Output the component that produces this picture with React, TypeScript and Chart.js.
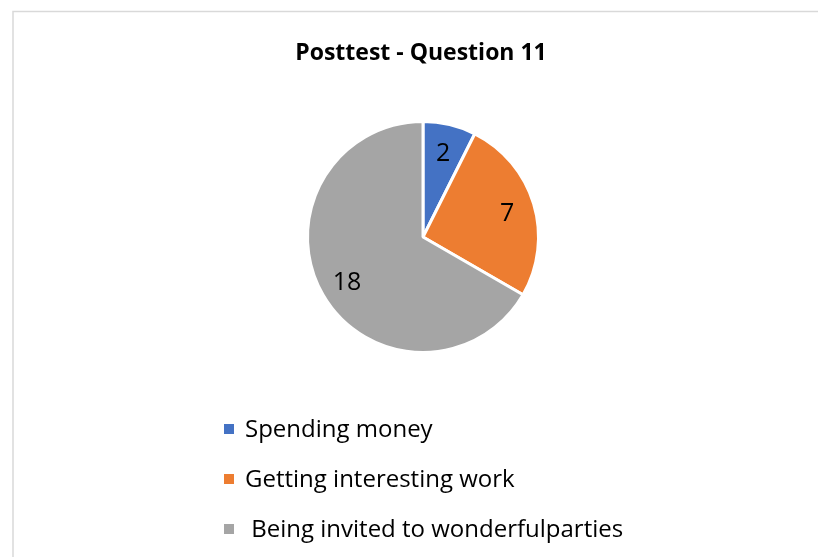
import React, { useEffect, useRef } from "react";
import { Chart, registerables } from "chart.js";

Chart.register(...registerables);

const titleText = "Posttest - Question 11";
const categories = ["Spending money", "Getting interesting work", " Being invited to wonderfulparties"];
const values = [2, 7, 18];
const colors = ["#4472C4", "#ED7D31", "#A5A5A5"];

const FONT = "'Open Sans', sans-serif";

const decorPlugin = {
  id: "decor",
  beforeDraw(chart: any) {
    const ctx = chart.ctx;
    ctx.save();
    ctx.fillStyle = "#ffffff";
    ctx.fillRect(0, 0, chart.width, chart.height);
    ctx.strokeStyle = "#d9d9d9";
    ctx.lineWidth = 1.5;
    ctx.strokeRect(13, 11.5, chart.width + 20, chart.height + 20);
    ctx.restore();
  },
  afterDraw(chart: any) {
    const ctx = chart.ctx;
    ctx.save();
    // title
    ctx.fillStyle = "#000000";
    ctx.font = `bold 23px ${FONT}`;
    ctx.textAlign = "center";
    ctx.textBaseline = "alphabetic";
    ctx.fillText(titleText, 421, 60);

    // data labels
    const meta = chart.getDatasetMeta(0);
    ctx.font = `25px ${FONT}`;
    ctx.textAlign = "center";
    ctx.textBaseline = "middle";
    meta.data.forEach((arc: any, i: number) => {
      const p = arc.getProps(["x", "y", "startAngle", "endAngle", "outerRadius"], true);
      const mid = (p.startAngle + p.endAngle) / 2;
      const r = p.outerRadius * 0.76;
      ctx.fillText(String(values[i]), p.x + Math.cos(mid) * r, p.y + Math.sin(mid) * r + 2);
    });

    // legend
    const rowY = [429, 479, 529];
    ctx.textAlign = "left";
    ctx.font = `24px ${FONT}`;
    categories.forEach((c, i) => {
      ctx.fillStyle = colors[i];
      ctx.fillRect(224, rowY[i] - 5, 10, 10);
      ctx.fillStyle = "#000000";
      ctx.fillText(c, 245, rowY[i] + 1);
    });
    ctx.restore();
  },
};

export default function App() {
  const ref = useRef<HTMLCanvasElement | null>(null);
  useEffect(() => {
    const chart = new Chart(ref.current as HTMLCanvasElement, {
      type: "pie",
      data: {
        labels: categories,
        datasets: [
          {
            data: values,
            backgroundColor: colors,
            borderColor: "#ffffff",
            borderWidth: 3,
          },
        ],
      },
      options: {
        animation: false,
        responsive: false,
        layout: { padding: { left: 306, right: 278, top: 120, bottom: 203 } },
        plugins: {
          legend: { display: false },
          title: { display: false },
          tooltip: { enabled: false },
        },
      },
      plugins: [decorPlugin],
    });
    return () => chart.destroy();
  }, []);
  return (
    <div style={{ position: "fixed", left: 0, top: 0, width: 818, height: 557 }}>
      <canvas ref={ref} width={818} height={557} style={{ display: "block" }} />
    </div>
  );
}
